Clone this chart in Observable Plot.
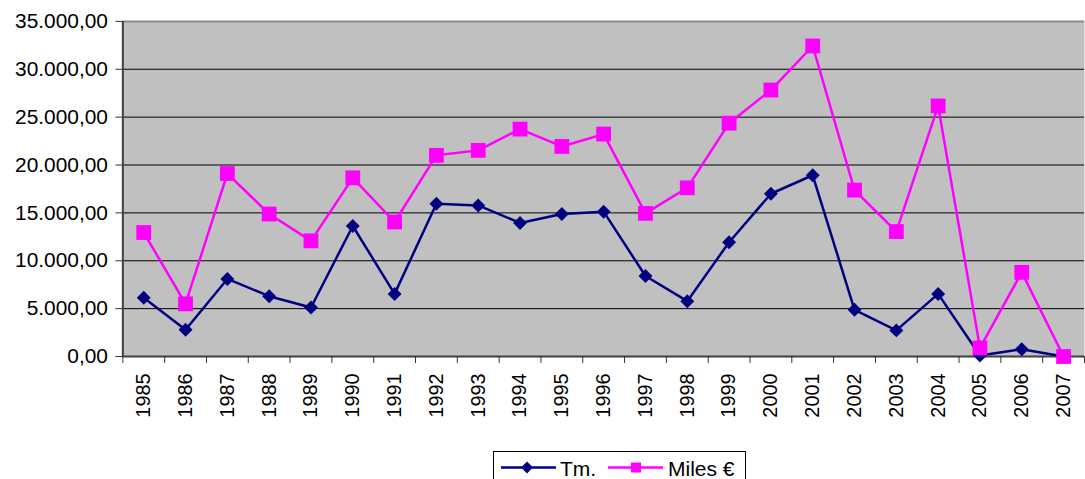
<!DOCTYPE html>
<html>
<head>
<meta charset="utf-8">
<script src="https://cdn.jsdelivr.net/npm/d3@7"></script>
<script src="https://cdn.jsdelivr.net/npm/@observablehq/plot@0.6"></script>
<style>
  html, body { margin: 0; padding: 0; background: white; overflow: hidden; }
  #wrap { position: relative; width: 1085px; height: 479px; overflow: hidden; }
  #legend { position: absolute; left: 493px; top: 451px; width: 253px; height: 40px;
            border: 1px solid black; background: white; box-sizing: border-box; }
</style>
</head>
<body>
<div id="wrap"><div id="chart"></div><div id="legend"></div></div>
<script>
const years = [1985,1986,1987,1988,1989,1990,1991,1992,1993,1994,1995,1996,1997,1998,1999,2000,2001,2002,2003,2004,2005,2006,2007];
const tm    = [6130,2800,8100,6300,5120,13630,6540,15960,15780,13950,14880,15130,8410,5780,11940,17000,18930,4880,2730,6540,100,760,0];
const miles = [12950,5500,19110,14880,12080,18660,14050,21010,21530,23750,21940,23230,14950,17620,24370,27830,32430,17380,13050,26170,900,8790,0];
const yTicks = [0,5000,10000,15000,20000,25000,30000,35000];
const seriesNames = ["Tm.", "Miles €"];
const colors = ["#000080", "#FF00FF"];

const data = years.map((y, i) => ({i, year: y, tm: tm[i], miles: miles[i]}));
const fmt = d3.formatLocale({decimal: ",", thousands: ".", grouping: [3], currency: ["", ""]}).format(",.2f");

const diamond = {
  draw(ctx, size) {
    const h = Math.sqrt(size / 2);
    ctx.moveTo(0, -h); ctx.lineTo(h, 0); ctx.lineTo(0, h); ctx.lineTo(-h, 0); ctx.closePath();
  }
};

const boundaries = d3.range(-0.5, years.length, 1);

const chart = Plot.plot({
  width: 1091,
  height: 450,
  marginLeft: 123,
  marginRight: 1,
  marginTop: 21,
  marginBottom: 92,
  style: {fontFamily: "'Liberation Sans', Arial, sans-serif", color: "black", background: "transparent"},
  x: {type: "linear", domain: [-0.5, years.length - 0.5], range: [123, 1090]},
  y: {domain: [0, 35000], range: [358, 21]},
  marks: [
    Plot.frame({fill: "#C0C0C0", stroke: null}),
    Plot.ruleY(yTicks.filter(v => v > 0 && v < 35000), {stroke: "black", strokeWidth: 1}),
    Plot.ruleY([35000], {stroke: "#8a8a8a", strokeWidth: 2}),
    Plot.ruleY([0], {stroke: "#404040", strokeWidth: 2}),
    Plot.ruleX([-0.5], {stroke: "#404040", strokeWidth: 2}),
    Plot.axisY({ticks: yTicks, tickFormat: fmt, tickSize: 7, tickPadding: 8, fontSize: 21, label: null, stroke: "#303030"}),
    Plot.axisX({ticks: boundaries, tickFormat: () => "", tickSize: 7, label: null, stroke: "#303030"}),
    Plot.axisX({ticks: years.map((_, i) => i), tickFormat: i => String(years[i]), tickSize: 0, tickPadding: 17, tickRotate: -90, fontSize: 20, label: null}),
    Plot.line(data, {x: "i", y: "tm", stroke: colors[0], strokeWidth: 2.5}),
    Plot.dot(data, {x: "i", y: "tm", symbol: diamond, r: 5.6, fill: colors[0], stroke: null}),
    Plot.line(data, {x: "i", y: "miles", stroke: colors[1], strokeWidth: 2.5}),
    Plot.dot(data, {x: "i", y: "miles", symbol: "square", r: 8.4, fill: colors[1], stroke: null})
  ]
});
document.getElementById("chart").appendChild(chart);

// legend
const ns = "http://www.w3.org/2000/svg";
const lg = document.createElementNS(ns, "svg");
lg.setAttribute("width", 253); lg.setAttribute("height", 40);
lg.style.fontFamily = "'Liberation Sans', Arial, sans-serif";
lg.innerHTML = `
  <line x1="7" x2="62" y1="15.5" y2="15.5" stroke="${colors[0]}" stroke-width="2.5"/>
  <path d="M33,9.5 L39,15.5 L33,21.5 L27,15.5 Z" fill="${colors[0]}"/>
  <text x="66" y="23.5" font-size="21" fill="black">${seriesNames[0]}</text>
  <line x1="114" x2="169" y1="15.5" y2="15.5" stroke="${colors[1]}" stroke-width="2.5"/>
  <rect x="137" y="10.5" width="10" height="10" fill="${colors[1]}"/>
  <text x="174" y="23.5" font-size="21" fill="black">${seriesNames[1]}</text>`;
document.getElementById("legend").appendChild(lg);
</script>
</body>
</html>
